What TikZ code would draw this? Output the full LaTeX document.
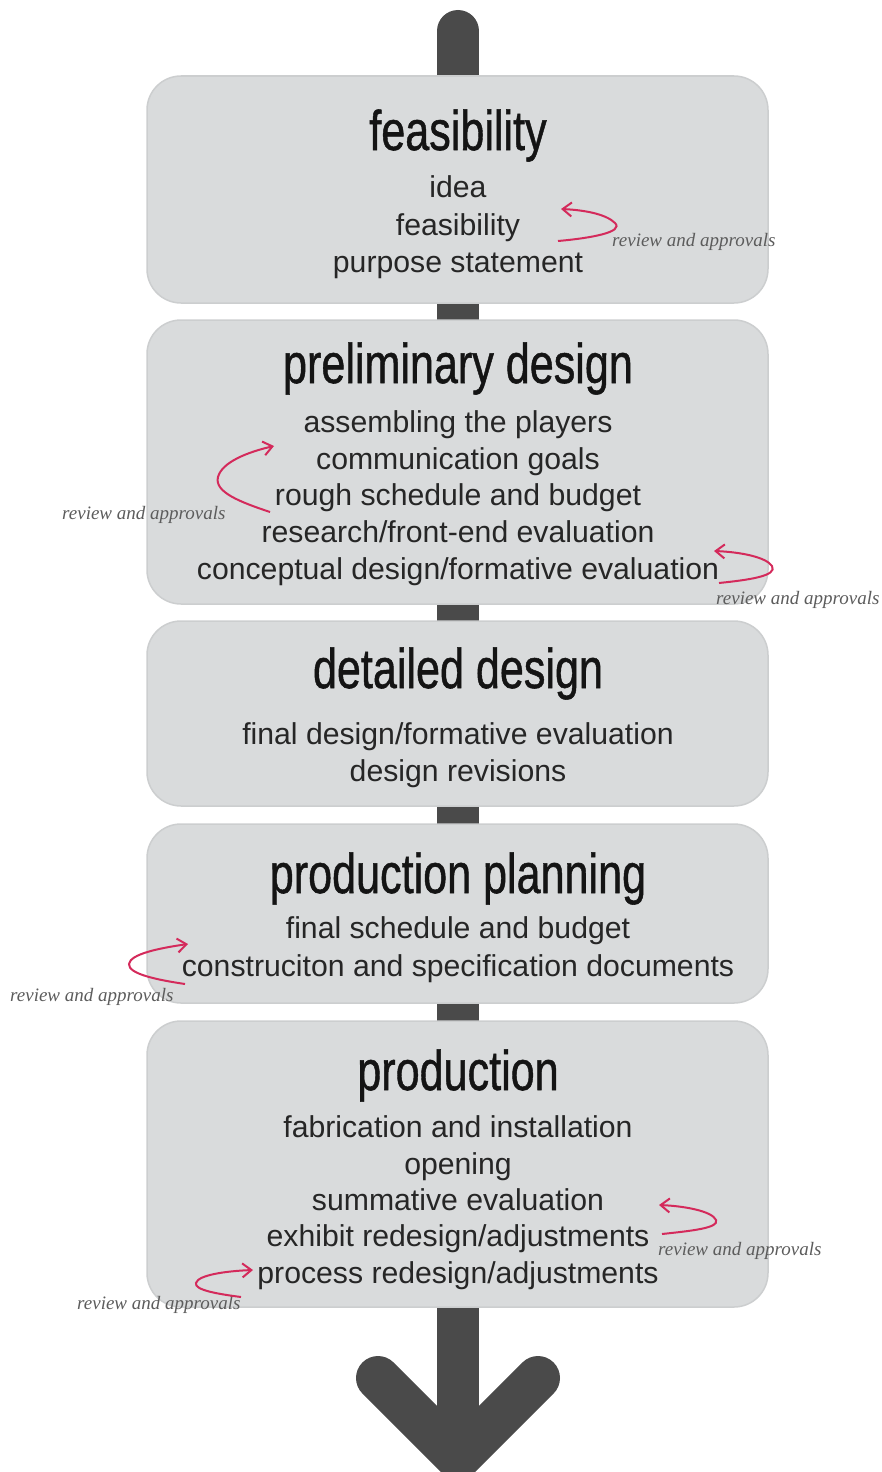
\documentclass[tikz,border=0pt]{standalone}
\usepackage{fontspec}
\setmainfont{Liberation Sans}
\newfontfamily\headfont[FakeBold=1]{Liberation Sans}
\newfontfamily\notefont{Liberation Serif}
\usetikzlibrary{arrows.meta}

\definecolor{shaftgray}{HTML}{4A4A4A}
\definecolor{panel}{HTML}{D9DBDC}
\definecolor{paneledge}{HTML}{CCCECF}
\definecolor{loopred}{HTML}{D42A5B}
\definecolor{notegray}{HTML}{5C5C5C}

\tikzset{
  stage/.style={fill=panel, draw=paneledge, line width=1.5pt, rounded corners=34pt},
  heading/.style={font=\headfont\fontsize{56}{56}\selectfont, inner sep=0pt, anchor=base, text=black!92},
  item/.style={font=\fontsize{30.2}{30}\selectfont, inner sep=0pt, anchor=base, text=black!85},
  reviewloop/.style={draw=loopred, line width=2pt, -{Straight Barb[length=9pt,width=14pt,line width=2pt]}},
  note/.style={font=\notefont\itshape\fontsize{19}{19}\selectfont, text=notegray, inner sep=0pt, anchor=base west},
}
\newcommand{\narrow}[1]{\scalebox{0.77}[1]{#1}}

\begin{document}
\begin{tikzpicture}[x=1pt,y=-1pt]
\useasboundingbox (0,0) rectangle (882,1472);

% central spine and the arrow head at its foot
\coordinate (spinetop) at (458,31);
\coordinate (spinefoot) at (458,1440);
\coordinate (headL) at (378,1378);
\coordinate (headtip) at (458,1458);
\coordinate (headR) at (538,1378);
\draw[shaftgray, line width=42pt, line cap=round] (spinetop) -- (spinefoot);
\draw[shaftgray, line width=44pt, line cap=round, line join=miter] (headL) -- (headtip) -- (headR);

% stage panels
\path[stage] (147,76) rectangle (768,303);
\path[stage] (147,320) rectangle (768,604);
\path[stage] (147,621) rectangle (768,806);
\path[stage] (147,824) rectangle (768,1003);
\path[stage] (147,1021) rectangle (768,1307);

% stage 1
\node[heading] (h1) at (458,150) {\narrow{feasibility}};
\node[item] (a1) at (458,197) {idea};
\node[item] (a2) at (458,235) {feasibility};
\node[item] (a3) at (458,272) {purpose statement};

% stage 2
\node[heading] (h2) at (458,383) {\narrow{preliminary design}};
\node[item] (b1) at (458,432) {assembling the players};
\node[item] (b2) at (458,469) {communication goals};
\node[item] (b3) at (458,505) {rough schedule and budget};
\node[item] (b4) at (458,542) {research/front-end evaluation};
\node[item] (b5) at (458,579) {conceptual design/formative evaluation};

% stage 3
\node[heading] (h3) at (458,688) {\narrow{detailed design}};
\node[item] (c1) at (458,744) {final design/formative evaluation};
\node[item] (c2) at (458,781) {design revisions};

% stage 4
\node[heading] (h4) at (458,893) {\narrow{production planning}};
\node[item] (d1) at (458,938) {final schedule and budget};
\node[item] (d2) at (458,976) {construciton and specification documents};

% stage 5
\node[heading] (h5) at (458,1090) {\narrow{production}};
\node[item] (e1) at (458,1137) {fabrication and installation};
\node[item] (e2) at (458,1174) {opening};
\node[item] (e3) at (458,1210) {summative evaluation};
\node[item] (e4) at (458,1246) {exhibit redesign/adjustments};
\node[item] (e5) at (458,1283) {process redesign/adjustments};

% review loops
\node[note] (n1) at (612,246) {review and approvals};
\draw[reviewloop] (558,241) .. controls (592,238) and (624,232) .. (615,223)
                  .. controls (606,214) and (584,210) .. (561,209);

\node[note] (n2) at (62,519) {review and approvals};
\draw[reviewloop] (270,512) .. controls (240,502) and (214,492) .. (218,477)
                  .. controls (222,462) and (248,452) .. (274,446);

\node[note] (n3) at (716,604) {review and approvals};
\draw[reviewloop] (719,583) .. controls (748,580) and (778,576) .. (772,566)
                  .. controls (766,557) and (740,552) .. (714,551);

\node[note] (n4) at (10,1001) {review and approvals};
\draw[reviewloop] (185,984) .. controls (158,980) and (128,974) .. (129,964)
                  .. controls (130,954) and (160,948) .. (188,944);

\node[note] (n5) at (658,1255) {review and approvals};
\draw[reviewloop] (662,1234) .. controls (690,1231) and (720,1228) .. (716,1220)
                  .. controls (712,1211) and (684,1206) .. (659,1205);

\node[note] (n6) at (77,1309) {review and approvals};
\draw[reviewloop] (241,1297) .. controls (218,1294) and (194,1290) .. (196,1283)
                  .. controls (198,1275) and (226,1271) .. (253,1270);
\end{tikzpicture}
\end{document}
